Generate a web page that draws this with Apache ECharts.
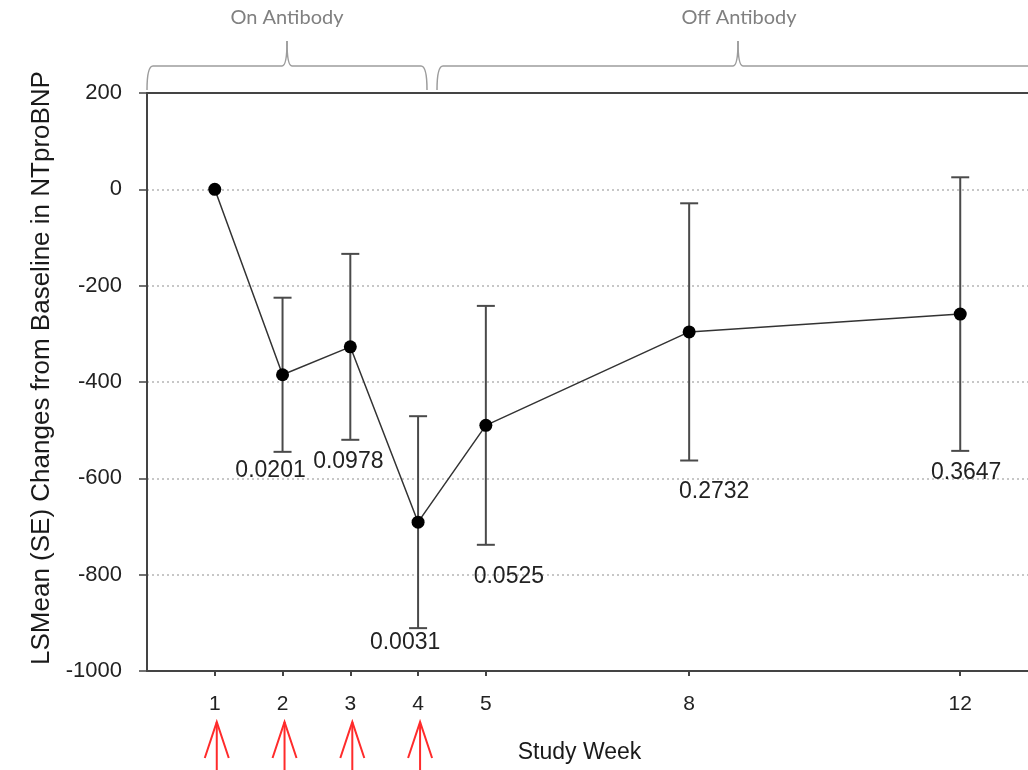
<!DOCTYPE html>
<html>
<head>
<meta charset="utf-8">
<script src="https://cdn.jsdelivr.net/npm/echarts@6/dist/echarts.min.js"></script>
<style>
html,body{margin:0;padding:0;background:#fff;}
#c{width:1028px;height:770px;}
</style>
</head>
<body>
<div id="c"></div>
<script>
// ---- data ----
const weeks = [1, 2, 3, 4, 5, 8, 12];
const lsMean = [0, -385, -327, -691, -490, -296, -259];
const seHalf = [0, 160, 193, 220, 248, 267, 284];
const pValues = ['', '0.0201', '0.0978', '0.0031', '0.0525', '0.2732', '0.3647'];
const dosingWeeks = [1, 2, 3, 4];
const yTicks = [200, 0, -200, -400, -600, -800, -1000];
const yAxisTitle = 'LSMean (SE) Changes from Baseline in NTproBNP';
const xAxisTitle = 'Study Week';
const phaseLabels = ['On Antibody', 'Off Antibody'];

// ---- layout / style config ----
const Y_MIN = -1000, Y_MAX = 200;
const pLabelOffsets = [[0, 0], [-12, 19], [-2, 22], [-13, 15], [23, 32], [25, 31], [6, 22]];
const FONT = '"Liberation Sans", Arial, sans-serif';
const BRACE = {stroke: '#9c9c9c', lineWidth: 1.5, fill: null};

function brace(x1, x2, peak, yBase, yEnd, yPeak, openRight) {
  const els = [];
  els.push({type: 'bezierCurve', shape: {x1: x1, y1: yEnd, cpx1: x1, cpy1: yBase, x2: x1 + 6, y2: yBase}, style: BRACE});
  els.push({type: 'line', shape: {x1: x1 + 6, y1: yBase, x2: peak - 5, y2: yBase}, style: BRACE});
  els.push({type: 'bezierCurve', shape: {x1: peak - 5, y1: yBase, cpx1: peak, cpy1: yBase, x2: peak, y2: yPeak}, style: BRACE});
  els.push({type: 'bezierCurve', shape: {x1: peak, y1: yPeak, cpx1: peak, cpy1: yBase, x2: peak + 5, y2: yBase}, style: BRACE});
  if (openRight) {
    els.push({type: 'line', shape: {x1: peak + 5, y1: yBase, x2: x2, y2: yBase}, style: BRACE});
  } else {
    els.push({type: 'line', shape: {x1: peak + 5, y1: yBase, x2: x2 - 6, y2: yBase}, style: BRACE});
    els.push({type: 'bezierCurve', shape: {x1: x2 - 6, y1: yBase, cpx1: x2, cpy1: yBase, x2: x2, y2: yEnd}, style: BRACE});
  }
  return els;
}

const chart = echarts.init(document.getElementById('c'), null, {renderer: 'canvas'});

const errData = weeks.map((w, i) => [w, lsMean[i] - seHalf[i], lsMean[i] + seHalf[i]]);

const option = {
  backgroundColor: '#fff',
  animation: false,
  grid: {left: 147, right: -6, top: 93, bottom: 99},
  xAxis: [{
    type: 'value', min: 0, max: 13,
    name: xAxisTitle, nameLocation: 'middle', nameGap: 70,
    nameTextStyle: {fontFamily: FONT, fontSize: 23, color: '#1a1a1a', padding: [0, 16, 0, 0]},
    axisLine: {show: true, onZero: false, lineStyle: {color: '#444', width: 2}},
    axisTick: {show: true, length: 5, customValues: weeks, lineStyle: {color: '#444', width: 2}},
    axisLabel: {customValues: weeks, margin: 23, fontFamily: FONT, fontSize: 21, color: '#222'},
    splitLine: {show: false}
  }, {
    type: 'value', min: 0, max: 13, position: 'top', z: 10,
    axisLine: {show: true, onZero: false, lineStyle: {color: '#444', width: 2}},
    axisTick: {show: false}, axisLabel: {show: false}, splitLine: {show: false}
  }],
  yAxis: {
    type: 'value', min: Y_MIN, max: Y_MAX, interval: 200,
    name: yAxisTitle, nameLocation: 'middle', nameGap: 89, nameRotate: 90,
    nameTextStyle: {fontFamily: FONT, fontSize: 26, color: '#1a1a1a', padding: [0, 0, 0, 28]},
    axisLine: {show: true, onZero: false, lineStyle: {color: '#444', width: 2}},
    axisTick: {show: true, length: 8, lineStyle: {color: '#444', width: 1.5}},
    axisLabel: {margin: 25, fontFamily: FONT, fontSize: 22, color: '#222',
      formatter: v => yTicks.includes(v) ? String(v) : ''},
    splitLine: {show: true, lineStyle: {color: '#b5b5b5', width: 1.5, type: [2, 3]}}
  },
  series: [
    {
      type: 'custom',
      name: 'SE',
      data: errData,
      encode: {x: 0, y: [1, 2]},
      z: 2,
      clip: false,
      renderItem: function (params, api) {
        const i = params.dataIndex;
        const x = api.value(0), lo = api.value(1), hi = api.value(2);
        const pHi = api.coord([x, hi]);
        const pLo = api.coord([x, lo]);
        const children = [];
        const st = {stroke: '#4a4a4a', lineWidth: 2};
        if (hi !== lo) {
          children.push({type: 'line', shape: {x1: pHi[0], y1: pHi[1], x2: pLo[0], y2: pLo[1]}, style: st});
          children.push({type: 'line', shape: {x1: pHi[0] - 9, y1: pHi[1], x2: pHi[0] + 9, y2: pHi[1]}, style: st});
          children.push({type: 'line', shape: {x1: pLo[0] - 9, y1: pLo[1], x2: pLo[0] + 9, y2: pLo[1]}, style: st});
        }
        if (pValues[i]) {
          const off = pLabelOffsets[i];
          children.push({type: 'text', x: pLo[0] + off[0], y: pLo[1] + off[1],
            style: {text: pValues[i], fill: '#222', font: '23px ' + FONT, align: 'center', verticalAlign: 'middle'}});
        }
        return {type: 'group', children: children};
      }
    },
    {
      type: 'line',
      name: 'LSMean',
      data: weeks.map((w, i) => [w, lsMean[i]]),
      z: 3,
      symbol: 'circle',
      symbolSize: 13,
      lineStyle: {color: '#333', width: 1.5},
      itemStyle: {color: '#000'}
    },
    {
      type: 'custom',
      name: 'Dosing',
      data: dosingWeeks.map(w => [w, Y_MIN]),
      encode: {x: 0, y: 1},
      clip: false,
      silent: true,
      renderItem: function (params, api) {
        const p = api.coord([api.value(0), api.value(1)]);
        const x = p[0] + 2, tip = p[1] + 51;
        const st = {stroke: '#ff2b2b', lineWidth: 2, fill: null};
        return {type: 'group', children: [
          {type: 'line', shape: {x1: x, y1: tip, x2: x, y2: tip + 60}, style: st},
          {type: 'polyline', shape: {points: [[x - 12, tip + 36], [x, tip], [x + 12, tip + 36]]}, style: st}
        ]};
      }
    }
  ],
  graphic: [].concat(
    brace(147, 427, 287, 66, 90, 41, false),
    brace(437, 1040, 738, 66, 90, 41, true),
    [
      {type: 'text', x: 287, y: 18, style: {text: phaseLabels[0], fill: '#808080', font: '20px Lato, "Open Sans", sans-serif', align: 'center', verticalAlign: 'middle'}},
      {type: 'text', x: 739, y: 18, style: {text: phaseLabels[1], fill: '#808080', font: '20px Lato, "Open Sans", sans-serif', align: 'center', verticalAlign: 'middle'}}
    ]
  )
};
chart.setOption(option);
</script>
</body>
</html>
